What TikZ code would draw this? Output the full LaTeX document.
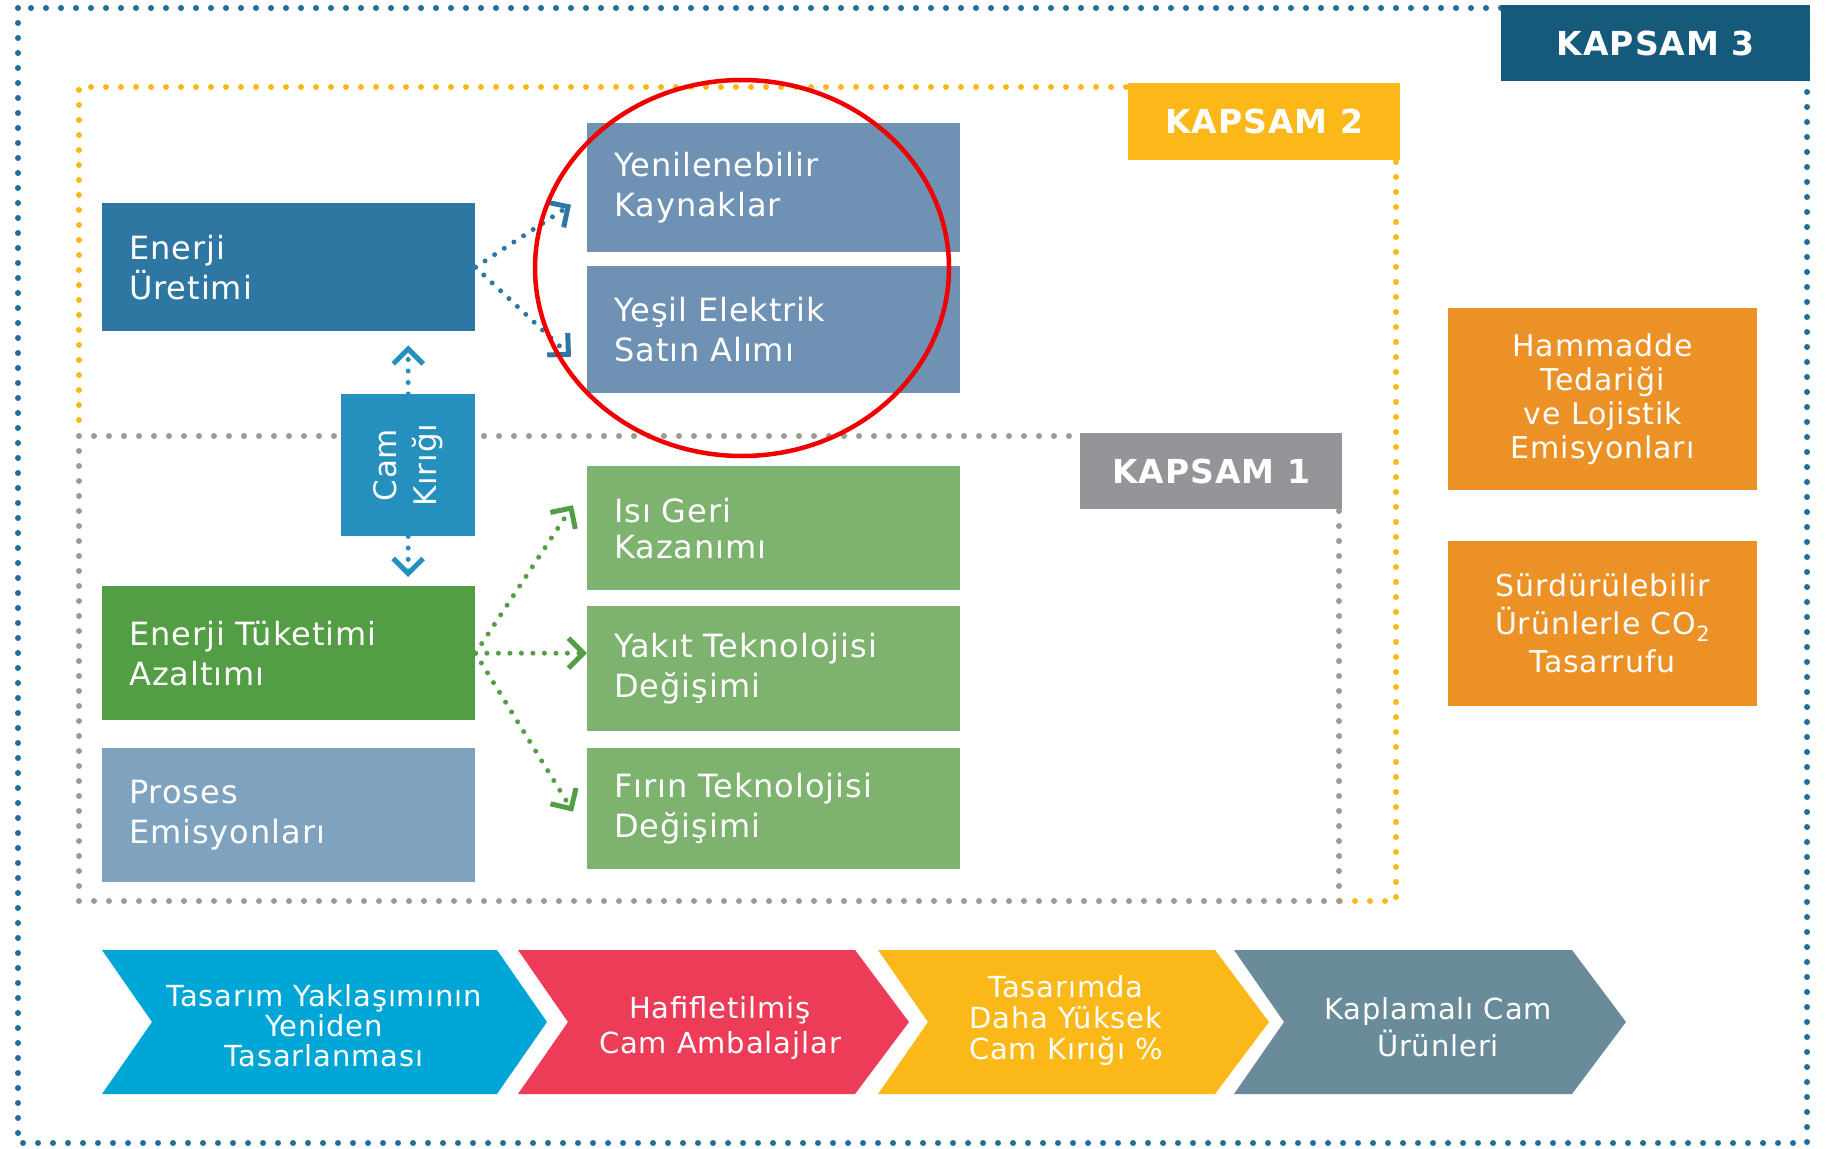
\documentclass[tikz,border=0pt]{standalone}
\usepackage{fontspec}
\setmainfont{DejaVu Sans}[LetterSpace=3]
\usetikzlibrary{arrows.meta,calc}
\definecolor{cOut}{HTML}{1F6E9D}
\definecolor{cK3}{HTML}{15597B}
\definecolor{cK2}{HTML}{FBB818}
\definecolor{cK1}{HTML}{939598}
\definecolor{cK1dots}{HTML}{A09B90}
\definecolor{cEU}{HTML}{2E77A2}
\definecolor{cCK}{HTML}{2590BE}
\definecolor{cYK}{HTML}{6F91B3}
\definecolor{cG}{HTML}{7DB26F}
\definecolor{cETA}{HTML}{539E45}
\definecolor{cPE}{HTML}{7FA2BF}
\definecolor{cOr}{HTML}{EB9126}
\definecolor{cC1}{HTML}{00A6D5}
\definecolor{cC2}{HTML}{EC3C58}
\definecolor{cC3}{HTML}{FBB819}
\definecolor{cC4}{HTML}{6A8B9A}
\definecolor{cRed}{HTML}{F00000}
\begin{document}
\begin{tikzpicture}[x=1pt,y=-1pt,
  lbox/.style={anchor=north west, inner xsep=27pt, inner ysep=0pt, align=left, text=white, text width=319pt, font=\fontsize{32}{40}\selectfont},
  cbox/.style={anchor=north west, inner sep=0pt, align=center, text=white, minimum width=309pt},
  kbox/.style={anchor=north west, inner sep=0pt, text=white, font=\fontsize{33}{40}\selectfont\bfseries},
  dots/.style={line width=6pt, line cap=round, dash pattern=on 0pt off 15pt},
  conn/.style={line width=5pt, line cap=round, dash pattern=on 0pt off 11.5pt, -{Straight Barb[length=15pt,width=30pt,line width=5pt]}},
  ctext/.style={align=center, text=white, inner sep=0pt},
]
\useasboundingbox (0,0) rectangle (1827,1148);
\fill[white] (0,0) rectangle (1827,1148);

% scope borders
\draw[dots, cOut] (18,8) rectangle (1807,1143);
\draw[dots, cK2] (79,420) -- (79,87) -- (1396,87) -- (1396,901) -- (1339,901);
\draw[dots, cK1dots] (79,436) rectangle (1339,901);

% scope labels
\node[kbox, fill=cK3, minimum width=309pt, minimum height=76pt] (K3) at (1501,5) {KAPSAM 3};
\node[kbox, fill=cK2, minimum width=272pt, minimum height=77pt] (K2) at (1128,83) {KAPSAM 2};
\node[kbox, fill=cK1, minimum width=262pt, minimum height=76pt] (K1) at (1080,433) {KAPSAM 1};

% left column
\node[lbox, fill=cEU, minimum height=128pt] (EU) at (102,203) {Enerji\\Üretimi};
\node[lbox, fill=cETA, minimum height=134pt] (ETA) at (102,586) {Enerji Tüketimi\\Azaltımı};
\node[lbox, fill=cPE, minimum height=134pt] (PE) at (102,748) {Proses\\Emisyonları};
\node[fill=cCK, anchor=north west, inner sep=0pt, minimum width=134pt, minimum height=142pt] (CK) at (341,394) {};
\node[rotate=90, text=white, align=center, inner sep=0pt, font=\fontsize{31}{40}\selectfont] (CKt) at (CK.center) {Cam\\Kırığı};

% middle column
\node[lbox, fill=cYK, minimum height=129pt] (YK) at (587,123) {Yenilenebilir\\Kaynaklar};
\node[lbox, fill=cYK, minimum height=127pt] (YE) at (587,266) {Yeşil Elektrik\\Satın Alımı};
\node[lbox, fill=cG, minimum height=124pt, font=\fontsize{32}{36}\selectfont] (IG) at (587,466) {Isı Geri\\Kazanımı};
\node[lbox, fill=cG, minimum height=125pt] (YT) at (587,606) {Yakıt Teknolojisi\\Değişimi};
\node[lbox, fill=cG, minimum height=121pt] (FT) at (587,748) {Fırın Teknolojisi\\Değişimi};

% right column
\node[cbox, fill=cOr, minimum height=182pt, font=\fontsize{30}{34}\selectfont] (HM) at (1448,308) {Hammadde\\Tedariği\\ve Lojistik\\Emisyonları};
\node[cbox, fill=cOr, minimum height=165pt, font=\fontsize{30}{38}\selectfont] (SU) at (1448,541) {Sürdürülebilir\\Ürünlerle CO\textsubscript{2}\\Tasarrufu};

% connectors
\draw[conn, cEU] (EU.east) -- ($(YK.west)+(-16,17)$);
\draw[conn, cEU] (EU.east) -- ($(YE.west)+(-16,27)$);
\draw[conn, cETA] (ETA.east) -- ($(IG.west)+(-14,-23)$);
\draw[conn, cETA] (ETA.east) -- (ETA.east -| YT.west);
\draw[conn, cETA] (ETA.east) -- ($(FT.west)+(-14,3)$);
\draw[conn, cCK] (CK.north) -- ($(CK.north |- EU.south)+(0,14)$);
\draw[conn, cCK] (CK.south) -- ($(CK.south |- ETA.north)+(0,-9)$);

% chevrons
\fill[cC1] (102,950) -- (497,950) -- (547,1022) -- (497,1094) -- (102,1094) -- (152,1022) -- cycle;
\fill[cC2] (518,950) -- (855,950) -- (909,1022) -- (855,1094) -- (518,1094) -- (568,1022) -- cycle;
\fill[cC3] (878,950) -- (1215,950) -- (1269,1022) -- (1215,1094) -- (878,1094) -- (928,1022) -- cycle;
\fill[cC4] (1234,950) -- (1572,950) -- (1626,1022) -- (1572,1094) -- (1234,1094) -- (1284,1022) -- cycle;
\node[ctext, font=\fontsize{29}{30}\selectfont] (C1) at (324,1026) {Tasarım Yaklaşımının\\Yeniden\\Tasarlanması};
\node[ctext, font=\fontsize{29}{35}\selectfont] (C2) at (720,1028) {Hafifletilmiş\\Cam Ambalajlar};
\node[ctext, font=\fontsize{29}{31}\selectfont] (C3) at (1066,1020) {Tasarımda\\Daha Yüksek\\Cam Kırığı \%};
\node[ctext, font=\fontsize{29}{37}\selectfont] (C4) at (1438,1027) {Kaplamalı Cam\\Ürünleri};

% highlight
\draw[cRed, line width=4.5pt] (742,268) ellipse [x radius=207pt, y radius=188pt];
\end{tikzpicture}
\end{document}
